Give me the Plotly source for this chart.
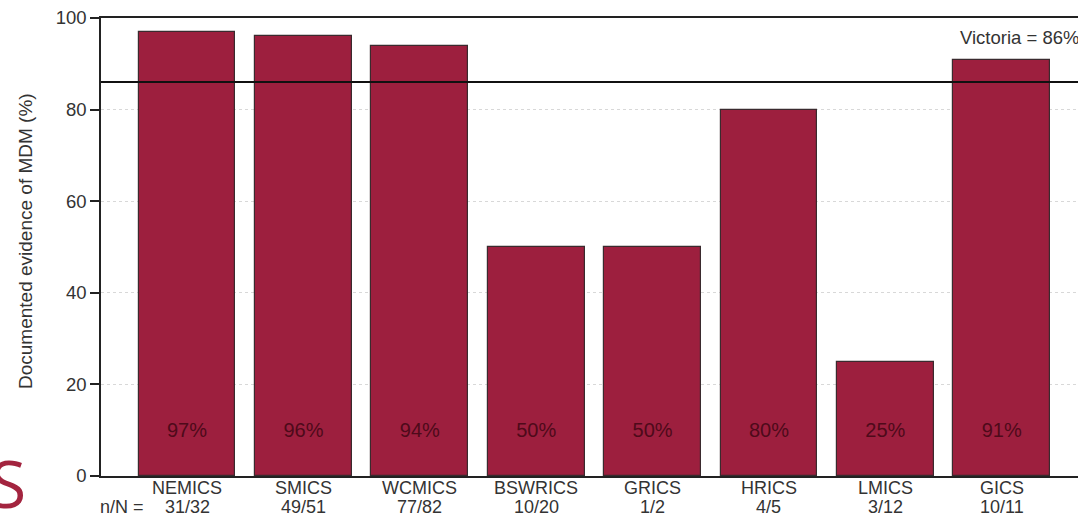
import plotly.graph_objects as go

categories = ["NEMICS", "SMICS", "WCMICS", "BSWRICS", "GRICS", "HRICS", "LMICS", "GICS"]
values = [96.9, 96.1, 93.9, 50.0, 50.0, 80.0, 25.0, 90.9]
pct_labels = ["97%", "96%", "94%", "50%", "50%", "80%", "25%", "91%"]
nN_labels = ["31/32", "49/51", "77/82", "10/20", "1/2", "4/5", "3/12", "10/11"]
victoria = 86
y_ticks = [0, 20, 40, 60, 80, 100]

BAR_COLOR = "#9d1f3e"
TEXT_DARK = "#4e0a1a"
FONT = "Arial, Liberation Sans, sans-serif"
LABEL_Y = 9.5

# plot area geometry (pixels)
L, T, B = 101, 18, 42
PW, PH = 1078 - L, 518 - T - B
ROW1_Y = -(488 - 476) / PH
ROW2_BOTTOM = -(517.5 - 476) / PH

x_idx = list(range(len(categories)))

fig = go.Figure()
fig.add_trace(go.Bar(
    x=x_idx, y=values, width=0.833,
    marker=dict(color=BAR_COLOR, line=dict(color="#3a2a2e", width=1.2)),
    showlegend=False, hoverinfo="skip",
))
fig.add_trace(go.Scatter(
    x=x_idx, y=[LABEL_Y] * len(x_idx), mode="text", text=pct_labels,
    textfont=dict(family=FONT, size=20, color=TEXT_DARK),
    showlegend=False, hoverinfo="skip",
))

fig.add_shape(type="line", xref="paper", x0=0, x1=1, yref="y", y0=victoria, y1=victoria,
              line=dict(color="#111111", width=2))

fig.add_annotation(xref="paper", x=(958 - L) / PW, xanchor="left",
                   yref="y", y=95.8, yanchor="middle",
                   text=f"Victoria = {victoria}%", showarrow=False,
                   font=dict(family=FONT, size=18.5, color="#333333"))

for xi, cat, nn in zip(x_idx, categories, nN_labels):
    fig.add_annotation(xref="x", x=xi, yref="paper", y=ROW1_Y, yanchor="middle",
                       text=cat, showarrow=False,
                       font=dict(family=FONT, size=18, color="#333333"))
    fig.add_annotation(xref="x", x=xi, yref="paper", y=ROW2_BOTTOM, yanchor="bottom",
                       text=nn, showarrow=False, borderpad=0,
                       font=dict(family=FONT, size=18, color="#333333"))

fig.add_annotation(xref="paper", x=(122 - L) / PW, xanchor="center",
                   yref="paper", y=ROW2_BOTTOM, yanchor="bottom", borderpad=0,
                   text="n/N =", showarrow=False,
                   font=dict(family=FONT, size=18, color="#333333"))

fig.add_annotation(xref="paper", x=(25 - L) / PW, xanchor="center",
                   yref="paper", y=(476 - 241) / PH, yanchor="middle",
                   text="Documented evidence of MDM (%)", textangle=-90, showarrow=False,
                   font=dict(family=FONT, size=19, color="#333333"))

fig.add_annotation(xref="paper", x=(-L - 12) / PW, xanchor="left",
                   yref="paper", y=-(482 - 476) / PH, yanchor="middle",
                   text="S", showarrow=False,
                   font=dict(family="Open Sans, sans-serif", size=66, color="#a3243f"))

fig.update_layout(
    width=1078, height=518,
    margin=dict(l=L, r=0, t=T, b=B, autoexpand=False),
    paper_bgcolor="white", plot_bgcolor="white",
    font=dict(family=FONT, color="#333333", size=18),
    bargap=0,
    xaxis=dict(
        range=[-0.739, 7.655], automargin=False,
        showticklabels=False,
        showline=True, linecolor="#222222", linewidth=1.5, mirror=True,
        ticks="", showgrid=False, zeroline=False,
    ),
    yaxis=dict(
        range=[0, 100], tickmode="array", tickvals=y_ticks, automargin=False,
        showline=True, linecolor="#222222", linewidth=1.5,
        ticks="outside", ticklen=9, tickwidth=1.5, tickcolor="#222222",
        showgrid=True, gridcolor="#d8d8d8", griddash="dot", gridwidth=1,
        zeroline=False,
        tickfont=dict(family=FONT, size=18.5, color="#333333"),
    ),
)

fig.write_html("out.html", config={"displayModeBar": False},
               post_script="document.body.style.margin='0px';document.body.style.overflow='hidden';")
